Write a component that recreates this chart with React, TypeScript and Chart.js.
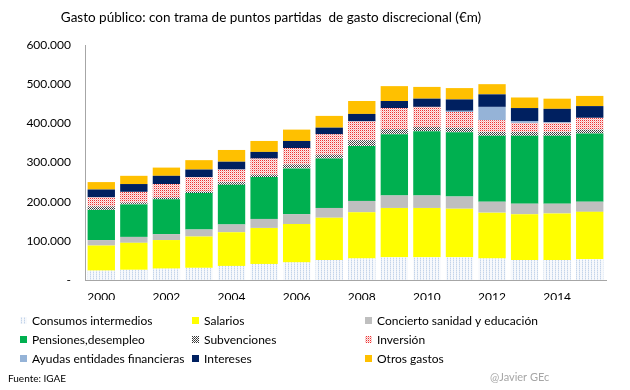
import React, { useEffect, useRef } from 'react';
import { Chart, registerables } from 'chart.js';

Chart.register(...registerables);

const years = ['2000', '2001', '2002', '2003', '2004', '2005', '2006', '2007', '2008', '2009', '2010', '2011', '2012', '2013', '2014', '2015'];

const consumos = [24000, 26000, 29000, 31000, 36000, 41000, 45000, 51000, 55000, 58000, 58000, 58000, 55000, 51000, 51000, 53000];
const salarios = [64000, 69000, 73000, 80000, 86000, 92000, 98000, 108000, 118000, 126000, 126000, 124000, 117000, 117000, 119000, 121000];
const concierto = [14000, 15000, 15000, 18000, 20000, 23000, 25000, 25000, 29000, 32000, 32000, 31000, 28000, 27000, 25000, 26000];
const pensiones = [77000, 83000, 89000, 93000, 101000, 107000, 117000, 126000, 140000, 156000, 164000, 164000, 168000, 173000, 173000, 174000];
const subvenciones = [9000, 5000, 5000, 4000, 7000, 6000, 10000, 10000, 15000, 13000, 11000, 12000, 10000, 10000, 10000, 10000];
const inversion = [23000, 27000, 34000, 37000, 32000, 41000, 42000, 52000, 48000, 54000, 51000, 40000, 30000, 23000, 23000, 30000];
const ayudas = [0, 0, 0, 0, 0, 0, 0, 0, 0, 0, 0, 3000, 34000, 5000, 2000, 0];
const intereses = [20000, 20000, 21000, 19000, 20000, 17000, 18000, 17000, 19000, 18000, 21000, 29000, 32000, 33000, 34000, 30000];
const otros = [19000, 21000, 21000, 24000, 30000, 28000, 29000, 30000, 33000, 38000, 30000, 29000, 26000, 27000, 26000, 26000];

const seriesNames = [
  'Consumos intermedios', 'Salarios', 'Concierto sanidad y educación',
  'Pensiones,desempleo', 'Subvenciones', 'Inversión',
  'Ayudas entidades financieras', 'Intereses', 'Otros gastos',
];

const yTicks = [0, 100000, 200000, 300000, 400000, 500000, 600000];

const TITLE = 'Gasto público: con trama de puntos partidas  de gasto discrecional (€m)';
const FONT = 'Lato, "Open Sans", sans-serif';

function makePattern(w: number, h: number, bg: string, dots: [number, number, string][]) {
  const c = document.createElement('canvas');
  c.width = w;
  c.height = h;
  const ctx = c.getContext('2d')!;
  ctx.fillStyle = bg;
  ctx.fillRect(0, 0, w, h);
  dots.forEach(([x, y, col]) => {
    ctx.fillStyle = col;
    ctx.fillRect(x, y, 1, 1);
  });
  return ctx.createPattern(c, 'repeat')!;
}

const overlayPlugin = {
  id: 'overlay',
  afterDraw(chart: any) {
    const ctx = chart.ctx;
    ctx.save();
    // title
    ctx.fillStyle = '#000';
    ctx.font = `13.5px ${FONT}`;
    ctx.textAlign = 'center';
    ctx.textBaseline = 'middle';
    ctx.fillText(TITLE, 271, 18);
    // legend
    const colX = [20, 192, 365];
    const rowY = [321, 340, 359];
    ctx.font = `12px ${FONT}`;
    ctx.textAlign = 'left';
    chart.data.datasets.forEach((ds: any, i: number) => {
      const cx = colX[i % 3];
      const cy = rowY[Math.floor(i / 3)];
      ctx.fillStyle = ds.backgroundColor;
      ctx.fillRect(cx, cy - 4, 7, 7);
      ctx.fillStyle = '#000';
      ctx.fillText(ds.label, cx + 12, cy);
    });
    // footer
    ctx.font = `10px ${FONT}`;
    ctx.fillStyle = '#000';
    ctx.fillText('Fuente: IGAE', 8, 379);
    ctx.font = `11px ${FONT}`;
    ctx.fillStyle = '#a6a6a6';
    ctx.fillText('@Javier GEc', 490, 377);
    ctx.restore();
  },
};

export default function App() {
  const ref = useRef<HTMLCanvasElement | null>(null);

  useEffect(() => {
    document.body.style.margin = '0';
    const canvas = ref.current;
    if (!canvas) return;

    const pConsumos = makePattern(3, 2, '#f7f9fc', [[0, 0, '#c3d4ea'], [0, 1, '#dfe8f4']]);
    const pSubv = makePattern(2, 2, '#ffffff', [[0, 0, '#333333'], [1, 1, '#555555']]);
    const pInv = makePattern(2, 2, '#fdeaea', [[0, 0, '#ee3030'], [1, 1, '#f6b8b8']]);

    const values = [consumos, salarios, concierto, pensiones, subvenciones, inversion, ayudas, intereses, otros];
    const colors: any[] = [pConsumos, '#ffff00', '#bfbfbf', '#00b050', pSubv, pInv, '#95b3d7', '#002060', '#ffc000'];

    const datasets = values.map((v, i) => ({
      label: seriesNames[i],
      data: v,
      backgroundColor: colors[i],
      borderWidth: 0,
      barPercentage: 0.84,
      categoryPercentage: 1,
    }));

    const chart = new Chart(canvas, {
      type: 'bar',
      data: { labels: years, datasets },
      options: {
        animation: false,
        responsive: false,
        layout: { padding: { top: 45, left: 0, right: 24, bottom: 90 } },
        plugins: { legend: { display: false }, tooltip: { enabled: false }, title: { display: false } },
        scales: {
          x: {
            stacked: true,
            grid: { display: false, drawTicks: false },
            border: { color: '#a6a6a6' },
            ticks: {
              autoSkip: false,
              maxRotation: 0,
              padding: 10,
              color: '#000',
              font: { family: FONT, size: 12 },
              callback: (_v: any, i: number) => (i % 2 === 0 ? years[i] : ''),
            },
            afterFit: (s: any) => { s.height = 20; },
          },
          y: {
            stacked: true,
            min: yTicks[0],
            max: yTicks[yTicks.length - 1],
            grid: { display: false, drawTicks: false },
            border: { color: '#a6a6a6' },
            afterBuildTicks: (s: any) => { s.ticks = yTicks.map((v) => ({ value: v })); },
            ticks: {
              padding: 14,
              color: '#000',
              font: { family: FONT, size: 12 },
              callback: (v: any) => (Number(v) === 0 ? '-' : `${Math.round(Number(v) / 1000)}.000`),
            },
            afterFit: (s: any) => { s.width = 85; },
          },
        },
      },
      plugins: [overlayPlugin],
    });
    return () => chart.destroy();
  }, []);

  return (
    <div style={{ width: 630, height: 390, background: '#fff' }}>
      <canvas ref={ref} width={630} height={390} style={{ display: 'block' }} />
    </div>
  );
}
